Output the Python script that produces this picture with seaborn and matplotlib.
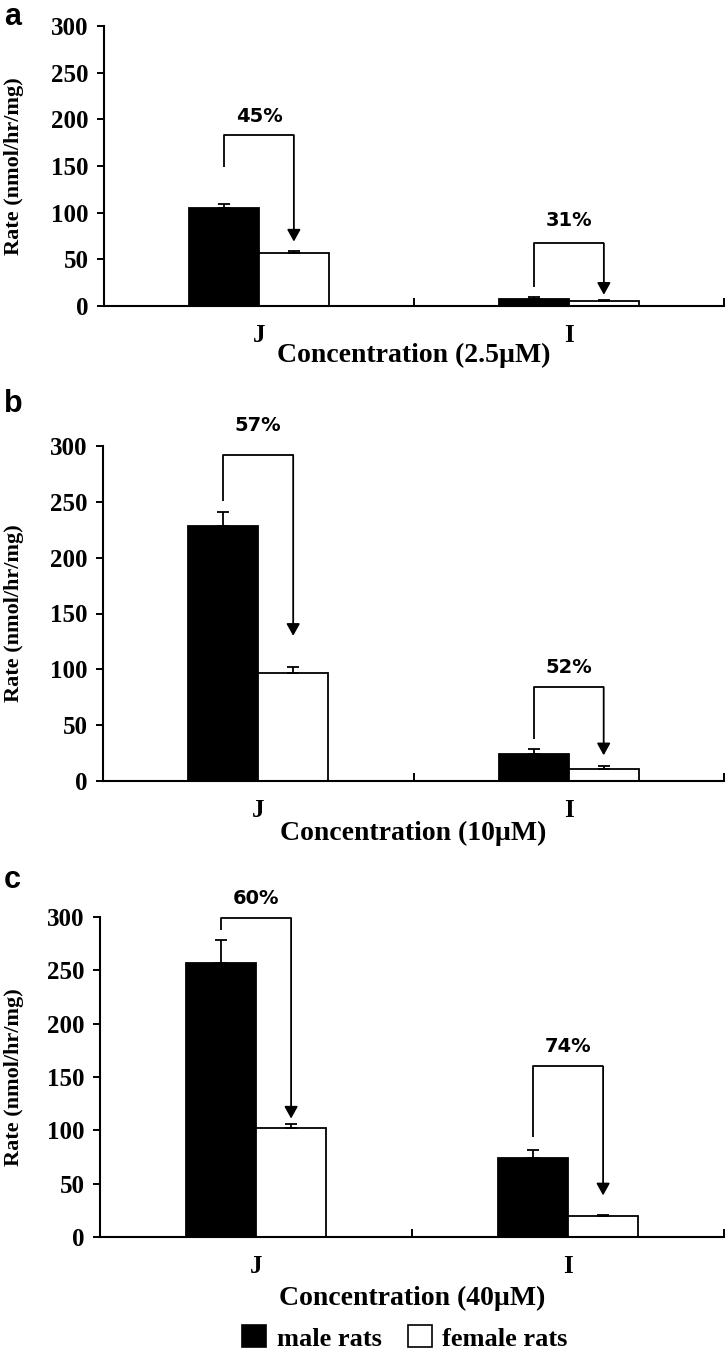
import numpy as np
import pandas as pd
import matplotlib
matplotlib.use('Agg')
import matplotlib.pyplot as plt
from matplotlib.patches import Patch
import seaborn as sns

# data
categories = ['J', 'I']
sexes = ['male rats', 'female rats']

male_a = [105, 8]
male_a_err = [4, 2]
female_a = [57, 5]
female_a_err = [2, 1]

male_b = [228, 24]
male_b_err = [13, 5]
female_b = [97, 11]
female_b_err = [5, 2]

male_c = [257, 74]
male_c_err = [21, 8]
female_c = [102, 20]
female_c_err = [4, 1]

# brackets: (start on male side, top, arrow tip on female side, text height)
brackets_a = [(149, 183, 69, 203), (20, 67, 12, 92)]
brackets_b = [(251, 292, 130, 318), (38, 84, 23, 102)]
brackets_c = [(288, 299, 111, 317), (94, 160, 39, 179)]
pct_a = ['45%', '31%']
pct_b = ['57%', '52%']
pct_c = ['60%', '74%']

xlabels = ['Concentration (2.5\u00b5M)', 'Concentration (10\u00b5M)', 'Concentration (40\u00b5M)']
panel_letters = ['a', 'b', 'c']

sns.set_style('white')
plt.rcParams['font.family'] = ['Liberation Serif', 'DejaVu Serif']
plt.rcParams['font.weight'] = 'bold'
plt.rcParams['text.color'] = 'black'
plt.rcParams['axes.labelcolor'] = 'black'

W, H = 728, 1356
fig = plt.figure(figsize=(W / 100, H / 100), dpi=100)

# axes boxes in pixels: left, right, top, bottom
boxes = [(104, 724, 26, 306), (103, 724, 446, 781), (100, 724, 917, 1237)]
xlabel_off = [37, 40, 49]
letter_y = [17, 404, 880]

panels = [
    (male_a, male_a_err, female_a, female_a_err, brackets_a, pct_a),
    (male_b, male_b_err, female_b, female_b_err, brackets_b, pct_b),
    (male_c, male_c_err, female_c, female_c_err, brackets_c, pct_c),
]

for i, (m, me, f, fe, brk, pct) in enumerate(panels):
    l, r, t, b = boxes[i]
    ax = fig.add_axes([l / W, 1 - b / H, (r - l) / W, (b - t) / H])

    df = pd.DataFrame({
        'Compound': categories * 2,
        'Sex': [sexes[0]] * 2 + [sexes[1]] * 2,
        'Rate': m + f,
    })
    sns.barplot(data=df, x='Compound', y='Rate', hue='Sex', order=categories,
                hue_order=sexes, palette={'male rats': 'black', 'female rats': 'white'},
                saturation=1, edgecolor='black', linewidth=1.3, width=0.45, gap=0,
                errorbar=None, legend=False, ax=ax)

    # upward-only error bars, placed on the bars seaborn drew
    centers = {}
    for cont, errs, sex in zip(ax.containers, [me, fe], sexes):
        xs = [p.get_x() + p.get_width() / 2 for p in cont.patches]
        hs = [p.get_height() for p in cont.patches]
        centers[sex] = xs
        ax.errorbar(xs, hs, yerr=[np.zeros(len(errs)), errs], fmt='none',
                    ecolor='black', elinewidth=1.3, capsize=4, capthick=1.3, zorder=3)

    # brackets with arrows and percentages
    for j, (y0, ytop, ytip, ytxt) in enumerate(brk):
        x0 = centers['male rats'][j]
        x1 = centers['female rats'][j]
        ax.plot([x0, x0, x1], [y0, ytop, ytop], color='black', lw=1.3,
                solid_capstyle='butt', clip_on=False, zorder=4)
        ax.annotate('', xy=(x1, ytip), xytext=(x1, ytop),
                    arrowprops=dict(arrowstyle='-|>,head_length=0.45,head_width=0.25',
                                    mutation_scale=16, lw=1.3, color='black',
                                    shrinkA=0, shrinkB=0),
                    annotation_clip=False, zorder=4)
        ax.text((x0 + x1) / 2, ytxt, pct[j], ha='center', va='center', color='black',
                fontsize=14, fontweight='bold', family=['DejaVu Sans'], clip_on=False)

    ax.set_ylim(0, 300)
    ax.set_xlim(-0.5, 1.5)
    ax.set_yticks(np.arange(0, 301, 50))
    ax.set_xticks(range(len(categories)))
    ax.set_xticklabels(categories, fontsize=18, fontweight='bold')
    ax.set_xticks([0.5, 1.5], minor=True)
    sns.despine(ax=ax)
    for s in ['left', 'bottom']:
        ax.spines[s].set_linewidth(1.5)
        ax.spines[s].set_color('black')
    ax.tick_params(axis='y', which='major', direction='out', length=5, width=1.4,
                   pad=6, labelsize=18, colors='black', left=True)
    ax.tick_params(axis='x', which='major', length=0, pad=13, colors='black')
    ax.tick_params(axis='x', which='minor', direction='in', length=6, width=1.4,
                   bottom=True, colors='black')
    for lab in ax.get_yticklabels():
        lab.set_fontweight('bold')

    ax.set_ylabel('Rate (nmol/hr/mg)', fontsize=16, fontweight='bold', color='black')
    ax.yaxis.set_label_coords(-(l - 24) / (r - l), 0.5)
    ax.set_xlabel(xlabels[i], fontsize=20, fontweight='bold', color='black')
    ax.xaxis.set_label_coords(0.5, -xlabel_off[i] / (b - t))

    fig.text(4 / W, 1 - letter_y[i] / H, panel_letters[i], ha='left', va='center',
             color='black', fontsize=22, fontweight='bold',
             family=['Liberation Sans', 'DejaVu Sans'])

handles = [Patch(facecolor='black', edgecolor='black', linewidth=1.2),
           Patch(facecolor='white', edgecolor='black', linewidth=1.2)]
fig.legend(handles, sexes, loc='center', bbox_to_anchor=(405 / W, 1 - 1338 / H), ncol=2,
           frameon=False, handlelength=0.9, handleheight=0.9, handletextpad=0.4,
           columnspacing=1.0, labelcolor='black',
           prop={'family': 'Liberation Serif', 'weight': 'bold', 'size': 19})

fig.savefig('out.png', dpi=100)
